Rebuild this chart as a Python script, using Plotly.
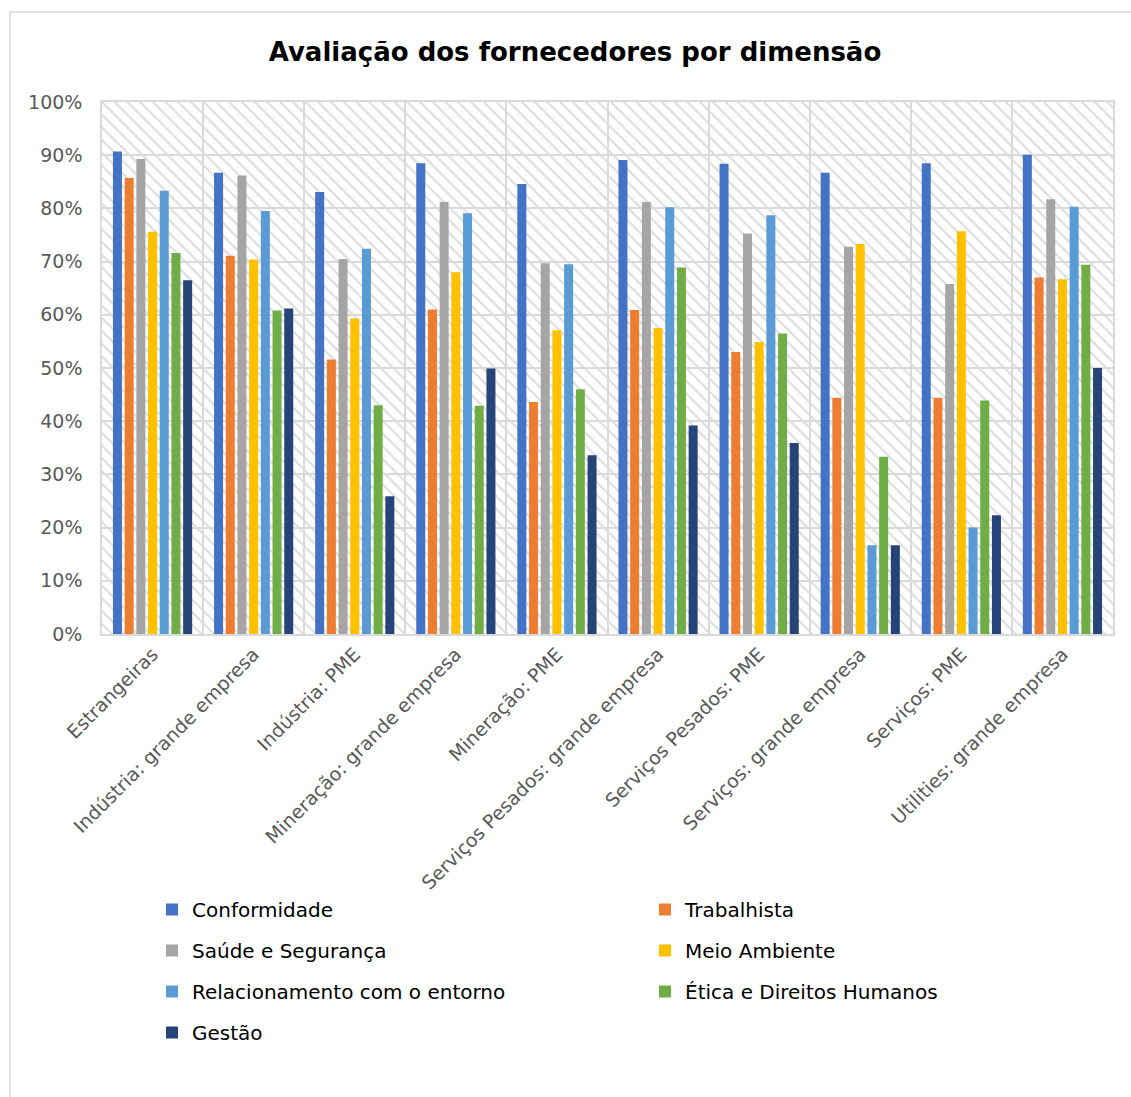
import plotly.graph_objects as go

# Supplier assessment scores (%) by segment and dimension
categorias = [
    "Estrangeiras",
    "Indústria: grande empresa",
    "Indústria: PME",
    "Mineração: grande empresa",
    "Mineração: PME",
    "Serviços Pesados: grande empresa",
    "Serviços Pesados: PME",
    "Serviços: grande empresa",
    "Serviços: PME",
    "Utilities: grande empresa",
]

conformidade = [90.7, 86.7, 83.1, 88.5, 84.6, 89.1, 88.4, 86.7, 88.5, 90.1]
trabalhista = [85.7, 71.1, 51.6, 61.0, 43.6, 60.9, 53.0, 44.4, 44.4, 67.0]
saude_seguranca = [89.3, 86.2, 70.5, 81.2, 69.7, 81.2, 75.3, 72.8, 65.8, 81.7]
meio_ambiente = [75.6, 70.4, 59.3, 68.0, 57.1, 57.5, 54.9, 73.3, 75.7, 66.7]
relacionamento = [83.3, 79.5, 72.4, 79.1, 69.5, 80.2, 78.7, 16.7, 20.0, 80.3]
etica = [71.6, 60.8, 43.0, 42.9, 46.0, 68.9, 56.5, 33.3, 43.9, 69.4]
gestao = [66.5, 61.2, 25.9, 49.9, 33.6, 39.2, 35.9, 16.7, 22.3, 50.0]

series = [
    ("Conformidade", conformidade, "#4472C4", "legend"),
    ("Trabalhista", trabalhista, "#ED7D31", "legend2"),
    ("Saúde e Segurança", saude_seguranca, "#A5A5A5", "legend"),
    ("Meio Ambiente", meio_ambiente, "#FFC000", "legend2"),
    ("Relacionamento com o entorno", relacionamento, "#5B9BD5", "legend"),
    ("Ética e Direitos Humanos", etica, "#70AD47", "legend2"),
    ("Gestão", gestao, "#264478", "legend"),
]

FONT = "DejaVu Sans"
W, H = 1131, 1097
ML, MR, MT, MB = 102, 18, 102, 463
PW, PH = W - ML - MR, H - MT - MB


def px_x(x):
    return (x - ML) / PW


def px_y(y):
    return (H - MB - y) / PH


fig = go.Figure()

# hatched plot-area background (main subplot, drawn beneath the bars)
fig.add_trace(go.Bar(
    x=[0.5], y=[100], width=[1],
    xaxis="x", yaxis="y",
    marker=dict(
        color="rgba(0,0,0,0)",
        line=dict(width=0),
        pattern=dict(shape="\\", size=9, solidity=0.22,
                     fgcolor="#dcdcdc", fillmode="replace"),
    ),
    showlegend=False, hoverinfo="skip",
))

for i, (nome, valores, cor, leg) in enumerate(series):
    fig.add_trace(go.Bar(
        name=nome, x=categorias, y=valores,
        xaxis="x2", yaxis="y",
        marker=dict(color=cor, line=dict(width=0)),
        legend=leg, legendgroup=nome,
    ))

grid = "#d9d9d9"
tick_font = dict(family=FONT, size=19, color="#595959")
legend_font = dict(family=FONT, size=20, color="#000000")

legend_common = dict(
    orientation="v", xanchor="left", yanchor="top",
    font=legend_font, itemwidth=30, tracegroupgap=12,
    bgcolor="rgba(0,0,0,0)", traceorder="grouped",
)

fig.update_layout(
    width=W, height=H,
    margin=dict(l=ML, r=MR, t=MT, b=MB),
    paper_bgcolor="white", plot_bgcolor="white",
    barmode="group", bargap=0.19, bargroupgap=0.23,
    title=dict(
        text="<b>Avaliação dos fornecedores por dimensão</b>",
        x=px_x(575), xref="paper", xanchor="center",
        y=1 - 52 / H, yref="container", yanchor="middle",
        font=dict(family=FONT, size=26, color="#000000"),
    ),
    xaxis=dict(range=[0, 1], visible=False, fixedrange=True),
    xaxis2=dict(
        overlaying="x", anchor="y", side="bottom", type="category",
        tickson="boundaries", showgrid=True, gridcolor=grid, gridwidth=1.5,
        showline=True, linecolor=grid, linewidth=1.5, mirror=True,
        ticks="", tickangle=-45, tickfont=tick_font,
    ),
    yaxis=dict(
        range=[0, 100], dtick=10, ticksuffix="%",
        showgrid=True, gridcolor=grid, gridwidth=1.5,
        showline=True, linecolor=grid, linewidth=1.5, mirror=True,
        zeroline=False, ticks="", ticklabelstandoff=14, tickfont=tick_font,
    ),
    legend=dict(x=px_x(152), y=px_y(890), **legend_common),
    legend2=dict(x=px_x(645), y=px_y(890), **legend_common),
    shapes=[dict(
        type="rect", xref="paper", yref="paper",
        x0=px_x(10), x1=px_x(W + 20), y0=px_y(H + 20), y1=px_y(12),
        line=dict(color=grid, width=1.5), fillcolor="rgba(0,0,0,0)", layer="below",
    )],
)

fig.write_html("out.html")
